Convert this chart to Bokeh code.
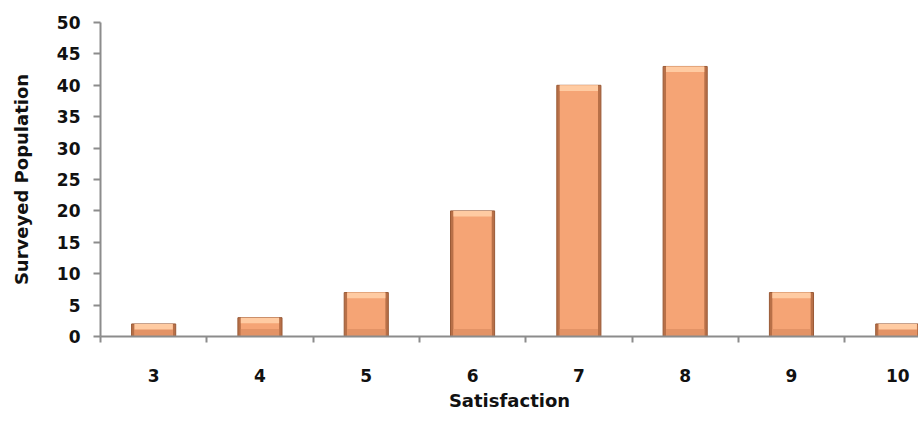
from bokeh.plotting import figure
from bokeh.models import FixedTicker, Range1d, ColumnDataSource
from bokeh.embed import file_html
from bokeh.resources import INLINE

satisfaction = [3, 4, 5, 6, 7, 8, 9, 10]
population = [2, 3, 7, 20, 40, 43, 7, 2]
y_ticks = [0, 5, 10, 15, 20, 25, 30, 35, 40, 45, 50]

src = ColumnDataSource(dict(
    x=satisfaction,
    top=population,
    hl_bottom=[max(v - 0.9, 0) for v in population],
    lo_top=[min(v, 1.2) for v in population],
))

p = figure(width=918, height=424, output_backend="svg", toolbar_location=None,
           x_range=Range1d(2.5, 10.195), y_range=Range1d(0, 50),
           min_border_left=100, min_border_top=22, min_border_right=0,
           min_border_bottom=88)
p.outline_line_color = None
p.grid.grid_line_color = None
p.background_fill_color = "white"

# bars: dark edge, body, lighter top highlight, slightly darker base
p.vbar(x="x", top="top", bottom=0, width=0.415, source=src,
       fill_color="#B87048", line_color="#9A5A36", line_width=1)
p.vbar(x="x", top="top", bottom=0, width=0.36, source=src,
       fill_color="#F5A475", line_color=None)
p.vbar(x="x", top="lo_top", bottom=0, width=0.36, source=src,
       fill_color="#E39366", line_color=None)
p.vbar(x="x", top="top", bottom="hl_bottom", width=0.36, source=src,
       fill_color="#FFCBA2", line_color=None)

label_font = "DejaVu Sans"

# x axis
p.xaxis.ticker = FixedTicker(ticks=satisfaction,
                             minor_ticks=[s - 0.5 for s in satisfaction])
p.xaxis.major_tick_line_color = None
p.xaxis.minor_tick_line_color = "#8c8c8c"
p.xaxis.minor_tick_line_width = 2
p.xaxis.minor_tick_out = 6
p.xaxis.minor_tick_in = 0
p.xaxis.axis_line_color = "#8c8c8c"
p.xaxis.axis_line_width = 2
p.xaxis.major_label_standoff = 26
p.xaxis.major_label_text_font = label_font
p.xaxis.major_label_text_font_size = "17px"
p.xaxis.major_label_text_font_style = "bold"
p.xaxis.major_label_text_color = "#111111"
p.xaxis.axis_label = "Satisfaction"
p.xaxis.axis_label_text_font = label_font
p.xaxis.axis_label_text_font_size = "18px"
p.xaxis.axis_label_text_font_style = "bold"
p.xaxis.axis_label_text_color = "#111111"
p.xaxis.axis_label_standoff = 5

# y axis
p.yaxis.ticker = FixedTicker(ticks=y_ticks)
p.yaxis.minor_tick_line_color = None
p.yaxis.major_tick_line_color = "#8c8c8c"
p.yaxis.major_tick_line_width = 2
p.yaxis.major_tick_out = 7
p.yaxis.major_tick_in = 0
p.yaxis.axis_line_color = "#8c8c8c"
p.yaxis.axis_line_width = 2
p.yaxis.major_label_standoff = 13
p.yaxis.major_label_text_font = label_font
p.yaxis.major_label_text_font_size = "17px"
p.yaxis.major_label_text_font_style = "bold"
p.yaxis.major_label_text_color = "#111111"
p.yaxis.axis_label = "Surveyed Population"
p.yaxis.axis_label_text_font = label_font
p.yaxis.axis_label_text_font_size = "18px"
p.yaxis.axis_label_text_font_style = "bold"
p.yaxis.axis_label_text_color = "#111111"
p.yaxis.axis_label_standoff = 22

open("out.html", "w").write(file_html(p, INLINE))
